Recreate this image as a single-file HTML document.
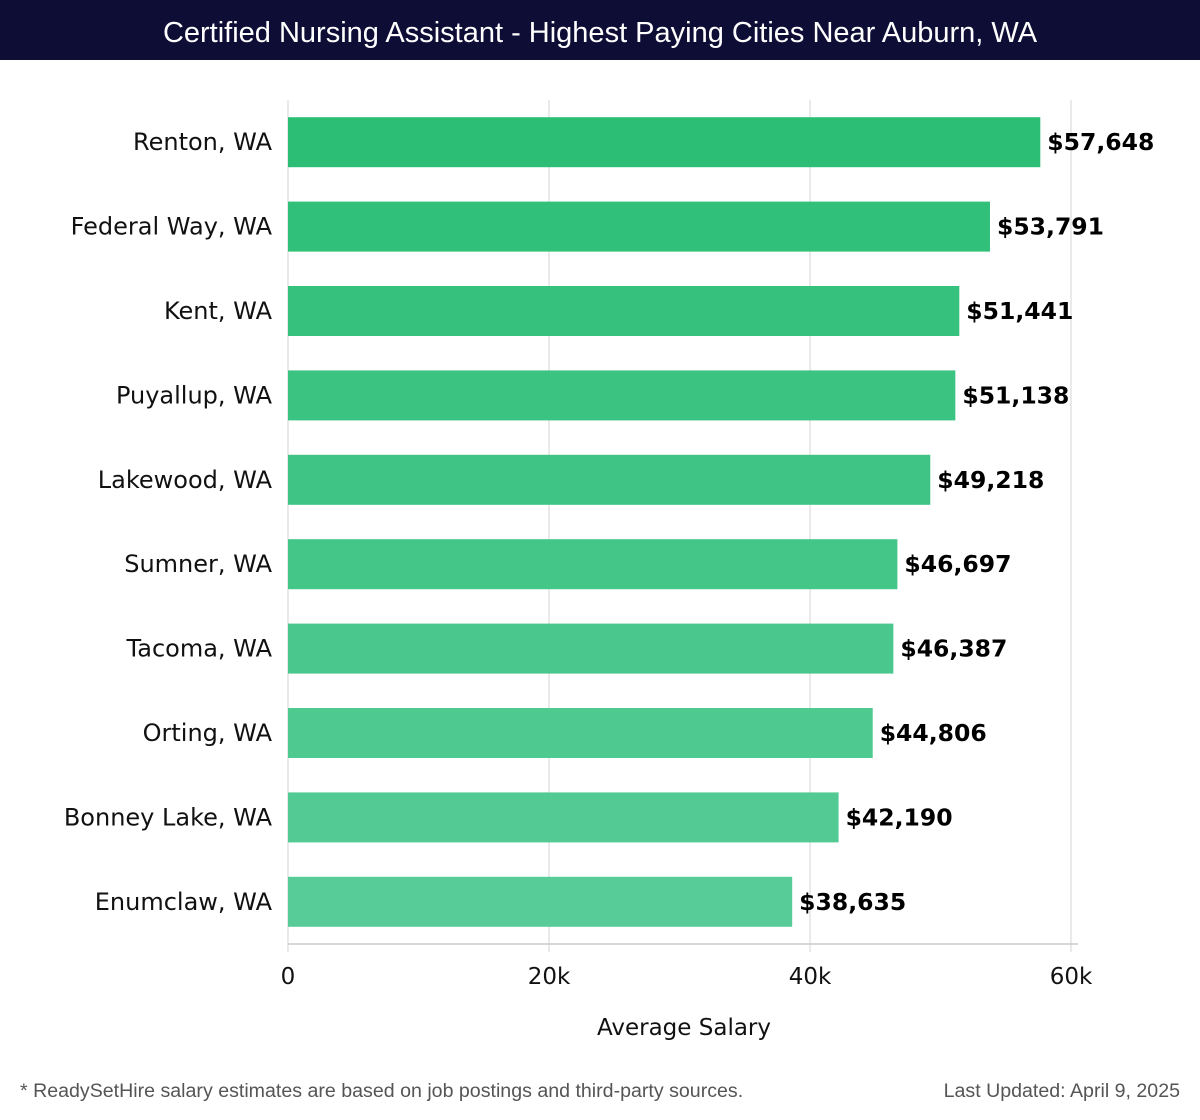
<!DOCTYPE html>
<html><head><meta charset="utf-8"><style>
body{margin:0;width:1200px;height:1120px;background:#fff;font-family:"Liberation Sans","DejaVu Sans",sans-serif;overflow:hidden}
#title{position:absolute;left:0;top:0;width:1200px;height:60px;background:#0e0d36;color:#fff;font-size:29px;text-align:center;line-height:66px}
.foot{position:absolute;top:1080px;font-size:19.6px;color:#555}
</style></head><body>
<div id="title">Certified Nursing Assistant - Highest Paying Cities Near Auburn, WA</div>
<svg id="chart" width="1200" height="1070" style="position:absolute;left:0;top:0;font-family:'DejaVu Sans',sans-serif"></svg>
<div class="foot" style="left:20px">* ReadySetHire salary estimates are based on job postings and third-party sources.</div>
<div class="foot" style="right:20px">Last Updated: April 9, 2025</div>
<script>
const categories=["Renton, WA","Federal Way, WA","Kent, WA","Puyallup, WA","Lakewood, WA","Sumner, WA","Tacoma, WA","Orting, WA","Bonney Lake, WA","Enumclaw, WA"];
const values=[57648,53791,51441,51138,49218,46697,46387,44806,42190,38635];
const ticks=[0,20000,40000,60000];
const tickLabels=["0","20k","40k","60k"];
const svg=document.getElementById('chart');const NS='http://www.w3.org/2000/svg';
const x0=288,x1=1071,xmax=60000,top0=100,bottom=944;
const xs=v=>x0+(v/xmax)*(x1-x0);
const pitch=(bottom-top0)/categories.length;
const ys=i=>top0+i*pitch+(pitch-50)/2;
function mk(t,a,txt){const e=document.createElementNS(NS,t);for(const k in a)e.setAttribute(k,a[k]);if(txt!=null)e.textContent=txt;svg.appendChild(e);return e;}
ticks.forEach((t,i)=>{
 const g=mk('line',{x1:xs(t),x2:xs(t),y1:top0,y2:bottom+8,stroke:'#e3e3e3','stroke-width':1.5});
 
 
 const l=mk('text',{x:xs(t),y:984,'text-anchor':'middle','font-size':23,fill:'#111'},tickLabels[i]);
 
 
});
const ax=mk('line',{x1:x0,x2:1078,y1:bottom,y2:bottom,stroke:'#ccc','stroke-width':1.5});


categories.forEach((c,i)=>{
 const f=i/(categories.length-1);
 const col=`rgb(${Math.round(44+f*44)},${Math.round(190+f*14)},${Math.round(117+f*35)})`;
 const b=mk('rect',{x:x0,y:ys(i),width:xs(values[i])-x0,height:50,fill:col});
 
 
 const cl=mk('text',{x:272,y:ys(i)+33,'text-anchor':'end','font-size':24,fill:'#111'},c);
 
 
 const vl=mk('text',{x:xs(values[i])+7,y:ys(i)+33,'font-size':23.5,'font-weight':'bold',fill:'#000'},'$'+values[i].toLocaleString('en-US'));
 
 
});
const at=mk('text',{x:684,y:1035,'text-anchor':'middle','font-size':23,fill:'#111'},'Average Salary');


</script>
</body></html>
